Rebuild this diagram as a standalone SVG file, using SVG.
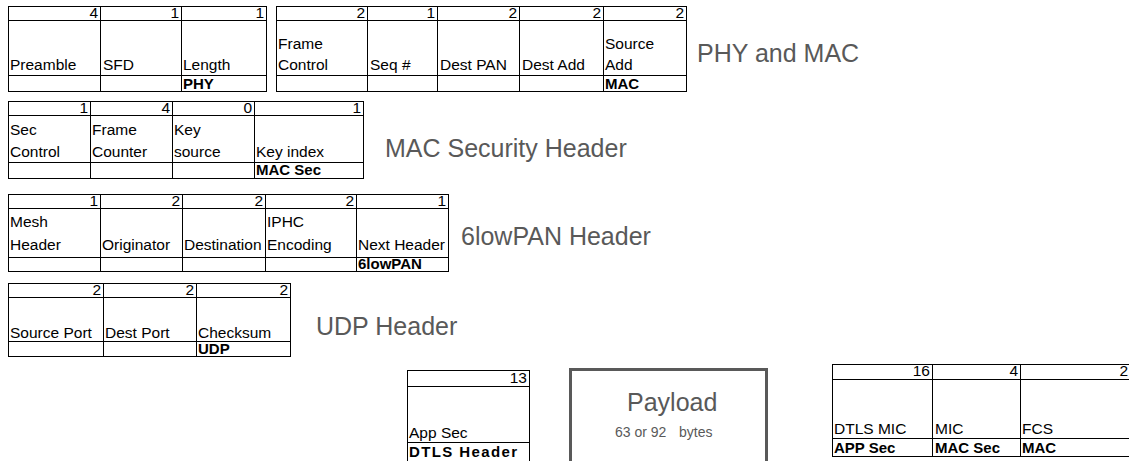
<svg xmlns="http://www.w3.org/2000/svg" width="1129" height="461" viewBox="0 0 1129 461">
<style>
.cell{fill:#fff;stroke:#000;stroke-width:1}
.ln{stroke:#000;stroke-width:1;fill:none}
text{font-family:"Liberation Sans",Arial,sans-serif}
.t{font-size:15.5px;fill:#000}
.n{font-size:15.5px;fill:#000;text-anchor:end}
.b{font-size:15px;font-weight:bold;fill:#000}
.title{font-size:25px;fill:#595959}
</style>
<rect width="1129" height="461" fill="#fff"/>
<g id="phy">
<rect class="cell" x="8.5" y="6.5" width="258" height="85"/>
<path class="ln" d="M8 20.5H266M8 75.5H266M100.5 6V91M181.5 6V91"/>
<text class="n" x="98" y="18">4</text><text class="n" x="179" y="18">1</text><text class="n" x="264" y="18">1</text>
<text class="t" x="10" y="70">Preamble</text><text class="t" x="103" y="70">SFD</text><text class="t" x="183" y="70">Length</text>
<text class="b" x="183" y="89">PHY</text>
</g>
<g id="mac">
<rect class="cell" x="276.5" y="6.5" width="410" height="85"/>
<path class="ln" d="M276 20.5H686M276 75.5H686M367.5 6V91M437.5 6V91M519.5 6V91M603.5 6V91"/>
<text class="n" x="365" y="18">2</text><text class="n" x="435" y="18">1</text><text class="n" x="517" y="18">2</text><text class="n" x="601" y="18">2</text><text class="n" x="684" y="18">2</text>
<text class="t" x="278" y="49">Frame</text><text class="t" x="278" y="70">Control</text>
<text class="t" x="370" y="70">Seq #</text><text class="t" x="440" y="70">Dest PAN</text><text class="t" x="522" y="70">Dest Add</text>
<text class="t" x="605" y="49">Source</text><text class="t" x="605" y="70">Add</text>
<text class="b" x="605" y="89">MAC</text>
</g>
<text class="title" x="697" y="62">PHY and MAC</text>
<g id="macsec">
<rect class="cell" x="8.5" y="101.5" width="355" height="77"/>
<path class="ln" d="M8 115.5H363M8 162.5H363M90.5 101V178M172.5 101V178M254.5 101V178"/>
<text class="n" x="88" y="113">1</text><text class="n" x="170" y="113">4</text><text class="n" x="252" y="113">0</text><text class="n" x="361" y="113">1</text>
<text class="t" x="10" y="135">Sec</text><text class="t" x="10" y="157">Control</text>
<text class="t" x="92" y="135">Frame</text><text class="t" x="92" y="157">Counter</text>
<text class="t" x="174" y="135">Key</text><text class="t" x="174" y="157">source</text>
<text class="t" x="256" y="157">Key index</text>
<text class="b" x="256" y="175">MAC Sec</text>
</g>
<text class="title" x="385" y="157">MAC Security Header</text>
<g id="sixlowpan">
<rect class="cell" x="8.5" y="194.5" width="440" height="77"/>
<path class="ln" d="M8 208.5H448M8 257.5H448M100.5 194V271M182.5 194V271M265.5 194V271M356.5 194V271"/>
<text class="n" x="98" y="206">1</text><text class="n" x="180" y="206">2</text><text class="n" x="263" y="206">2</text><text class="n" x="354" y="206">2</text><text class="n" x="446" y="206">1</text>
<text class="t" x="10" y="227">Mesh</text><text class="t" x="10" y="250">Header</text>
<text class="t" x="102" y="250">Originator</text><text class="t" x="184" y="250">Destination</text>
<text class="t" x="267" y="227">IPHC</text><text class="t" x="267" y="250">Encoding</text>
<text class="t" x="358" y="250">Next Header</text>
<text class="b" x="358" y="269">6lowPAN</text>
</g>
<text class="title" x="461" y="245">6lowPAN Header</text>
<g id="udp">
<rect class="cell" x="8.5" y="283.5" width="282" height="73"/>
<path class="ln" d="M8 297.5H290M8 341.5H290M103.5 283V356M196.5 283V356"/>
<text class="n" x="101" y="295">2</text><text class="n" x="194" y="295">2</text><text class="n" x="288" y="295">2</text>
<text class="t" x="10" y="338">Source Port</text><text class="t" x="105" y="338">Dest Port</text><text class="t" x="198" y="338">Checksum</text>
<text class="b" x="198" y="354">UDP</text>
</g>
<text class="title" x="316" y="335">UDP Header</text>
<g id="dtls">
<rect class="cell" x="407.5" y="370.5" width="122" height="95"/>
<path class="ln" d="M407 386.5H529M407 442.5H529"/>
<text class="n" x="527" y="383">13</text>
<text class="t" x="409" y="438">App Sec</text>
<text class="b" x="409" y="457" letter-spacing="1.4">DTLS Header</text>
</g>
<g id="payload">
<rect x="570.5" y="369.5" width="196" height="100" fill="#fff" stroke="#595959" stroke-width="3"/>
<text x="627" y="411" font-size="25" fill="#595959">Payload</text>
<text x="615" y="437" font-size="14" fill="#595959">63 or 92</text>
<text x="679" y="437" font-size="14" fill="#595959">bytes</text>
</g>
<g id="trailer">
<rect class="cell" x="832.5" y="364.5" width="310" height="92"/>
<path class="ln" d="M832 379.5H1140M832 438.5H1140M932.5 364V456M1020.5 364V456"/>
<text class="n" x="930" y="376">16</text><text class="n" x="1018" y="376">4</text><text class="n" x="1128" y="376">2</text>
<text class="t" x="834" y="434">DTLS MIC</text><text class="t" x="935" y="434">MIC</text><text class="t" x="1022" y="434">FCS</text>
<text class="b" x="834" y="453">APP Sec</text><text class="b" x="935" y="453">MAC Sec</text><text class="b" x="1022" y="453">MAC</text>
</g>
</svg>
